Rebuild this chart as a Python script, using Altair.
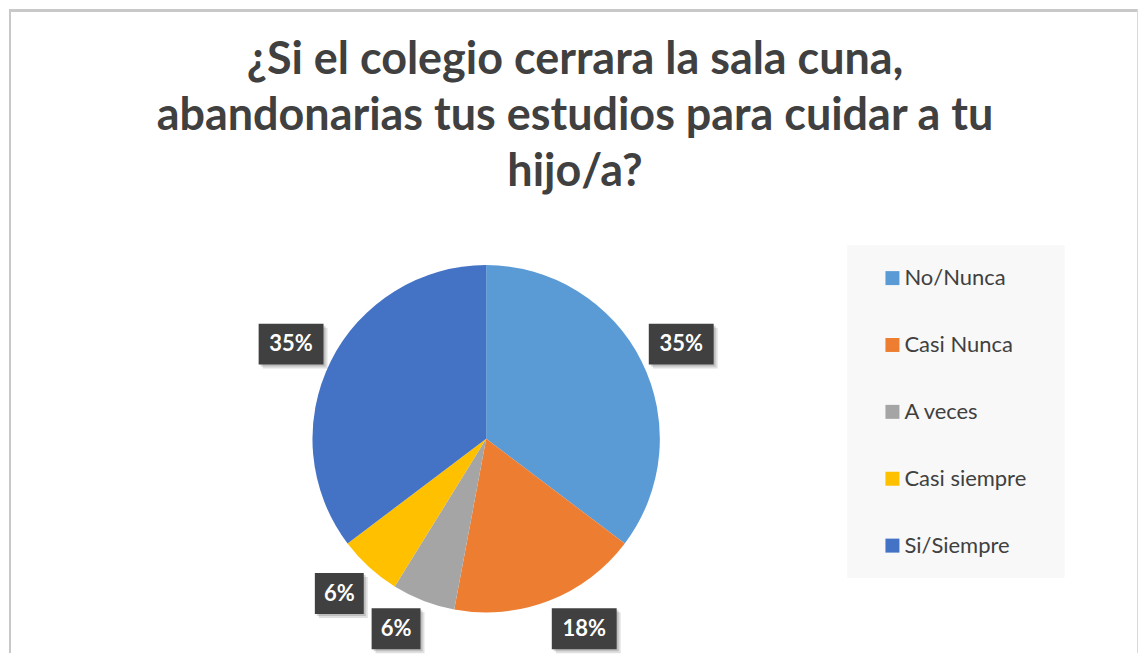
import altair as alt
import pandas as pd

# ---- data ----
categories = ["No/Nunca", "Casi Nunca", "A veces", "Casi siempre", "Si/Siempre"]
counts = [6, 3, 1, 1, 6]
colors = ["#5B9BD5", "#ED7D31", "#A5A5A5", "#FFC000", "#4472C4"]
title_lines = [
    "¿Si el colegio cerrara la sala cuna,",
    "abandonarias tus estudios para cuidar a tu",
    "hijo/a?",
]

# ---- layout ----
W, H = 1131, 644
CX, CY, R = 478, 430, 174
RL = 182
BOX_H = 41
FONT = "Lato"
TXT = "#404040"

df = pd.DataFrame({"cat": categories, "n": counts, "idx": list(range(len(categories)))})
tdf = pd.DataFrame({"line": title_lines, "i": list(range(len(title_lines)))})

xs = alt.Scale(domain=[0, W], range=[0, W], nice=False, zero=False)
ys = alt.Scale(domain=[0, H], range=[0, H], nice=False, zero=False)
color = alt.Color("cat:N", scale=alt.Scale(domain=categories, range=colors), legend=None)

base = alt.Chart(df)

pie = base.mark_arc(outerRadius=R).encode(
    theta=alt.Theta("n:Q", stack=True),
    order=alt.Order("idx:Q"),
    color=color,
    x=alt.value(CX),
    y=alt.value(CY),
)

lab = (
    base.transform_joinaggregate(total="sum(n)")
    .transform_window(cum="sum(n)", sort=[alt.SortField("idx")], frame=[None, 0])
    .transform_calculate(
        mid="(datum.cum - datum.n/2)/datum.total*2*PI",
        txt="format(datum.n/datum.total, '.0%')",
    )
    .transform_calculate(w="16*length(datum.txt)+17")
    .transform_calculate(
        lx=f"{CX} + {RL}*sin(datum.mid) + datum.w/2*clamp(3*sin(datum.mid), -1, 1)",
        ly=f"{CY} - {RL}*cos(datum.mid) - {BOX_H}/2*clamp(1.5*cos(datum.mid), -1, 1)",
    )
    .transform_calculate(
        x0="datum.lx - datum.w/2",
        x1="datum.lx + datum.w/2",
        y0=f"datum.ly - {BOX_H}/2",
        y1=f"datum.ly + {BOX_H}/2",
    )
    .transform_calculate(
        sx0="datum.x0 + 4", sx1="datum.x1 + 4", sy0="datum.y0 + 4", sy1="datum.y1 + 4",
        tx0="datum.x0 + 2", tx1="datum.x1 + 2", ty0="datum.y0 + 2", ty1="datum.y1 + 2",
    )
)

shadow1 = lab.mark_rect(color="#000000", opacity=0.12).encode(
    x=alt.X("sx0:Q", scale=xs, axis=None), x2="sx1:Q",
    y=alt.Y("sy0:Q", scale=ys, axis=None), y2="sy1:Q",
)
shadow2 = lab.mark_rect(color="#000000", opacity=0.15).encode(
    x=alt.X("tx0:Q", scale=xs, axis=None), x2="tx1:Q",
    y=alt.Y("ty0:Q", scale=ys, axis=None), y2="ty1:Q",
)
box = lab.mark_rect(color="#404040").encode(
    x=alt.X("x0:Q", scale=xs, axis=None), x2="x1:Q",
    y=alt.Y("y0:Q", scale=ys, axis=None), y2="y1:Q",
)
txt = lab.mark_text(font=FONT, fontWeight="bold", fontSize=22, color="white",
                    align="center", baseline="middle").encode(
    x=alt.X("lx:Q", scale=xs, axis=None),
    y=alt.Y("ly:Q", scale=ys, axis=None),
    text="txt:N",
)

# title
title = (
    alt.Chart(tdf)
    .transform_calculate(ty="65 + 56*datum.i")
    .mark_text(font=FONT, fontWeight="bold", fontSize=45, color=TXT,
               align="center", baseline="alphabetic")
    .encode(x=alt.value(567), y=alt.Y("ty:Q", scale=ys, axis=None), text="line:N")
)

# legend
leg_bg = base.mark_rect(color="#F8F8F8").encode(
    x=alt.value(840), x2=alt.value(1057), y=alt.value(236), y2=alt.value(569)
)
leg = base.transform_calculate(ly="269 + 67*datum.idx")
leg_sym = leg.mark_square(size=196, opacity=1, filled=True).encode(
    x=alt.value(885), y=alt.Y("ly:Q", scale=ys, axis=None), color=color
)
leg_txt = leg.mark_text(font=FONT, fontSize=22, color=TXT, align="left",
                        baseline="middle").encode(
    x=alt.value(897), y=alt.Y("ly:Q", scale=ys, axis=None), text="cat:N"
)

# frame border (left, top, right)
b_left = base.mark_rule(color="#C8C8C8", strokeWidth=2).encode(
    x=alt.value(1), y=alt.value(0), y2=alt.value(H))
b_top = base.mark_rule(color="#C8C8C8", strokeWidth=2).encode(
    y=alt.value(1), x=alt.value(0), x2=alt.value(W))
b_right = base.mark_rule(color="#D9D9D9", strokeWidth=1).encode(
    x=alt.value(W - 0.5), y=alt.value(0), y2=alt.value(H))

chart = (
    alt.layer(b_left, b_top, b_right, title, pie, leg_bg, leg_sym, leg_txt,
              shadow1, shadow2, box, txt)
    .properties(width=W, height=H, padding=0, background="white")
    .configure_view(stroke=None)
)

chart.save("out.html", embed_options={"renderer": "svg", "actions": False})
